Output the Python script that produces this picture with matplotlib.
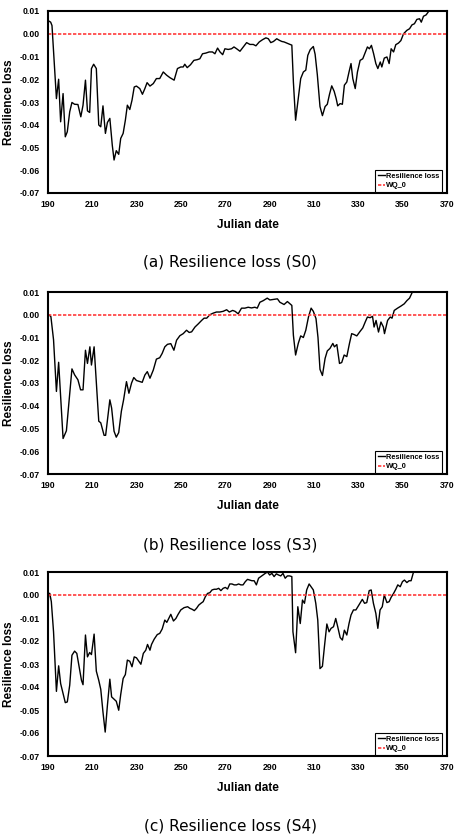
import matplotlib
matplotlib.use("Agg")
import matplotlib.pyplot as plt

# ── Data (Julian date, resilience loss) ──────────────────────────────────────
day_s0 = [190, 191.2, 191.8, 193.8, 194.8, 195.7, 196.8, 197.8, 198.7, 199.8,
          200.8, 202, 203.5, 204.8, 205.8, 206.9, 207.8, 208.8, 209.6, 210.6,
          211.8, 212.9, 213.8, 214.8, 215.9, 216.8, 217.9, 219, 219.8, 220.8,
          221.9, 222.8, 223.9, 224.9, 225.8, 226.9, 227.9, 228.9, 229.9, 231.4,
          232.6, 233.7, 234.7, 236, 237.5, 238.9, 240.4, 242, 243.5, 245,
          246.9, 248.4, 249.9, 251, 251.7, 252.8, 254.3, 255.8, 257.3, 258.5,
          259.7, 261.2, 262.7, 264.2, 265.3, 266.5, 267.6, 268.8, 269.8, 271.3,
          272.8, 273.9, 275.1, 276.6, 278.1, 279.6, 281.1, 282.6, 283.8, 285.3,
          286.8, 288.3, 289.4, 290.5, 291.7, 293.2, 294.4, 295.5, 296.5, 297.7,
          299.2, 300, 300.7, 301.7, 302.9, 304, 305.2, 306.3, 307.2, 308.3,
          309.7, 310.5, 311.5, 312.7, 313.8, 315, 316, 317, 318, 319.1,
          320, 320.7, 321.8, 322.8, 323.7, 324.8, 325.8, 326.7, 327.5, 328.6,
          329.6, 330.8, 332, 333.1, 334.1, 335, 335.9, 336.9, 337.9, 338.8,
          339.9, 340.6, 341.7, 342.9, 343.9, 344.8, 345.9, 346.9, 348.1, 349.2,
          350.4, 351.9, 353.1, 354.2, 355.3, 356.4, 357.6, 358.4, 359.4, 360.6,
          361.7, 362.5]
loss_s0 = [0.0058, 0.0051, 0.0036, -0.0285, -0.0200, -0.0387, -0.0263, -0.0453, -0.0431, -0.0343,
           -0.0302, -0.0310, -0.0311, -0.0365, -0.0314, -0.0204, -0.0339, -0.0346, -0.0153, -0.0134,
           -0.0153, -0.0401, -0.0409, -0.0317, -0.0438, -0.0390, -0.0372, -0.0490, -0.0555, -0.0514,
           -0.0530, -0.0460, -0.0438, -0.0380, -0.0314, -0.0333, -0.0292, -0.0234, -0.0230, -0.0241,
           -0.0266, -0.0241, -0.0215, -0.0230, -0.0219, -0.0197, -0.0197, -0.0168, -0.0182, -0.0193,
           -0.0204, -0.0153, -0.0146, -0.0146, -0.0134, -0.0149, -0.0136, -0.0117, -0.0114, -0.0110,
           -0.0088, -0.0085, -0.0080, -0.0080, -0.0088, -0.0063, -0.0080, -0.0092, -0.0066, -0.0069,
           -0.0066, -0.0058, -0.0066, -0.0077, -0.0058, -0.0039, -0.0047, -0.0047, -0.0053, -0.0036,
           -0.0026, -0.0018, -0.0022, -0.0039, -0.0034, -0.0022, -0.0029, -0.0034, -0.0036, -0.0041,
           -0.0047, -0.0050, -0.0212, -0.0380, -0.0285, -0.0197, -0.0168, -0.0160, -0.0095, -0.0070,
           -0.0056, -0.0090, -0.0180, -0.0320, -0.0360, -0.0320, -0.0310, -0.0266, -0.0229, -0.0253,
           -0.0285, -0.0317, -0.0307, -0.0310, -0.0226, -0.0212, -0.0168, -0.0131, -0.0197, -0.0241,
           -0.0168, -0.0117, -0.0110, -0.0083, -0.0058, -0.0066, -0.0051, -0.0088, -0.0131, -0.0153,
           -0.0124, -0.0146, -0.0107, -0.0102, -0.0131, -0.0066, -0.0080, -0.0048, -0.0041, -0.0030,
           0.0000, 0.0015, 0.0022, 0.0039, 0.0044, 0.0063, 0.0066, 0.0051, 0.0077, 0.0083,
           0.0098, 0.0110]

day_s3 = [190, 191.3, 192.5, 193.8, 194.8, 196.8, 198.3, 200.8, 202, 203.5,
          204.7, 205.8, 206.9, 207.8, 208.9, 209.6, 210.8, 212.9, 213.8, 215.3,
          216, 217.9, 218.7, 219.8, 220.8, 221.9, 223.1, 224.1, 225.4, 226.5,
          227.7, 228.7, 229.9, 232.5, 233.7, 234.8, 236, 237.5, 238.9, 240.4,
          241.5, 242.7, 243.9, 245.4, 246.8, 248, 249.5, 251, 252.5, 253.7,
          254.8, 256.3, 257.8, 259.3, 260.4, 261.6, 263, 264.5, 266, 267.5,
          269, 270.6, 271.8, 273.3, 274.4, 275.8, 277.3, 278.8, 280.3, 281.8,
          283.3, 284.4, 285.6, 287.1, 288.9, 290.1, 291.6, 293.5, 294.6, 296.5,
          298, 299.2, 300, 300.7, 301.7, 302.9, 304, 305.2, 306.3, 307.5,
          308.7, 309.7, 310.9, 311.8, 312.7, 313.8, 315, 316, 317.2, 318.5,
          319.2, 320.3, 321.5, 322.5, 323.6, 324.8, 326, 327, 328.1, 329.3,
          330.8, 332, 333.1, 334.1, 335.3, 336.4, 337.1, 338, 339.1, 340.2,
          341.3, 341.8, 343.2, 344.4, 345.2, 346.2, 347.7, 349.2, 350.7, 351.9,
          353.1, 354.2, 354.8]
loss_s3 = [0.0003, -0.0008, -0.0110, -0.0337, -0.0209, -0.0544, -0.0510, -0.0238, -0.0264, -0.0286,
           -0.0330, -0.0330, -0.0156, -0.0214, -0.0141, -0.0221, -0.0141, -0.0468, -0.0475, -0.0530,
           -0.0530, -0.0374, -0.0410, -0.0512, -0.0538, -0.0518, -0.0424, -0.0374, -0.0294, -0.0345,
           -0.0300, -0.0276, -0.0289, -0.0297, -0.0265, -0.0250, -0.0279, -0.0243, -0.0195, -0.0189,
           -0.0170, -0.0141, -0.0130, -0.0127, -0.0156, -0.0112, -0.0092, -0.0083, -0.0068, -0.0078,
           -0.0075, -0.0054, -0.0040, -0.0025, -0.0015, -0.0015, 0.0000, 0.0007, 0.0012, 0.0012,
           0.0015, 0.0022, 0.0012, 0.0019, 0.0015, 0.0004, 0.0029, 0.0029, 0.0033, 0.0030,
           0.0033, 0.0029, 0.0055, 0.0062, 0.0073, 0.0065, 0.0067, 0.0070, 0.0055, 0.0045,
           0.0058, 0.0048, 0.0041, -0.0090, -0.0177, -0.0126, -0.0093, -0.0100, -0.0068, -0.0010,
           0.0029, 0.0015, -0.0017, -0.0100, -0.0240, -0.0267, -0.0192, -0.0159, -0.0148, -0.0126,
           -0.0141, -0.0131, -0.0214, -0.0210, -0.0177, -0.0184, -0.0126, -0.0083, -0.0087, -0.0093,
           -0.0073, -0.0058, -0.0032, -0.0010, -0.0013, -0.0007, -0.0054, -0.0025, -0.0076, -0.0032,
           -0.0054, -0.0083, -0.0025, -0.0010, -0.0015, 0.0019, 0.0029, 0.0038, 0.0048, 0.0062,
           0.0073, 0.0096, 0.0110]

day_s4 = [190, 190.3, 190.8, 191.5, 192.5, 193.8, 194.8, 195.7, 196.8, 197.8,
          198.7, 199.8, 200.8, 202, 203, 203.9, 205.1, 205.8, 206.9, 207.8,
          208.8, 209.6, 210.8, 211.8, 212.9, 213.8, 214.8, 215.8, 216.8, 217.9,
          218.7, 219.8, 220.8, 221.9, 222.8, 223.9, 224.9, 225.8, 226.9, 227.9,
          228.9, 229.9, 231, 231.9, 233, 234.1, 234.9, 236, 236.7, 237.9,
          239.3, 240.4, 241.5, 242.7, 243.6, 244.5, 245.4, 246.6, 247.7, 248.7,
          249.9, 251.4, 253, 254, 255, 256, 257, 258, 259, 260,
          261, 262, 263, 264, 265, 266, 267, 268, 269, 270,
          271, 272, 273, 274, 275, 276, 277, 278, 279, 280,
          281, 282, 283, 284, 285, 286, 287, 288, 289, 290,
          291, 292, 293, 294, 295, 296, 297, 298, 299, 300,
          300.5, 301.7, 302.7, 303.8, 304.8, 305.7, 306.7, 307.8, 308.7, 309.7,
          310.8, 311.7, 312.7, 313.8, 314.7, 315.8, 316.8, 317.7, 318.8, 319.8,
          320.7, 321.8, 322.8, 323.7, 324.8, 325.8, 326.7, 327.8, 328.9, 329.8,
          330.8, 331.8, 332.8, 333.8, 334.9, 335.8, 336.8, 337.9, 338.8, 339.8,
          340.8, 341.7, 342.9, 343.9, 344.8, 345.9, 346.9, 347.8, 348.9, 349.9,
          350.8, 351.9, 352.9, 353.8, 354.9, 355.3]
loss_s4 = [-0.0051, 0.0007, 0.0007, -0.0029, -0.0160, -0.0419, -0.0308, -0.0385, -0.0429, -0.0468,
           -0.0465, -0.0392, -0.0262, -0.0244, -0.0254, -0.0305, -0.0371, -0.0390, -0.0174, -0.0269,
           -0.0250, -0.0259, -0.0170, -0.0331, -0.0371, -0.0410, -0.0509, -0.0596, -0.0480, -0.0366,
           -0.0443, -0.0453, -0.0462, -0.0501, -0.0433, -0.0363, -0.0346, -0.0283, -0.0288, -0.0312,
           -0.0269, -0.0273, -0.0288, -0.0301, -0.0254, -0.0240, -0.0215, -0.0240, -0.0215, -0.0192,
           -0.0172, -0.0167, -0.0148, -0.0109, -0.0119, -0.0102, -0.0084, -0.0113, -0.0102, -0.0084,
           -0.0065, -0.0055, -0.0051, -0.0058, -0.0062, -0.0068, -0.0058, -0.0044, -0.0036, -0.0029,
           -0.0007, 0.0007, 0.0010, 0.0022, 0.0025, 0.0025, 0.0029, 0.0019, 0.0029, 0.0033,
           0.0026, 0.0048, 0.0048, 0.0044, 0.0044, 0.0048, 0.0044, 0.0044, 0.0058, 0.0068,
           0.0065, 0.0062, 0.0062, 0.0044, 0.0073, 0.0080, 0.0087, 0.0094, 0.0100, 0.0087,
           0.0094, 0.0080, 0.0092, 0.0087, 0.0083, 0.0094, 0.0073, 0.0083, 0.0083, 0.0080,
           -0.0160, -0.0251, -0.0051, -0.0124, -0.0022, -0.0036, 0.0022, 0.0048, 0.0036, 0.0022,
           -0.0036, -0.0109, -0.0320, -0.0310, -0.0225, -0.0126, -0.0160, -0.0145, -0.0138, -0.0102,
           -0.0138, -0.0185, -0.0196, -0.0153, -0.0174, -0.0124, -0.0087, -0.0065, -0.0065, -0.0051,
           -0.0036, -0.0019, -0.0036, -0.0033, 0.0019, 0.0022, -0.0036, -0.0080, -0.0145, -0.0065,
           -0.0051, 0.0000, -0.0033, -0.0029, -0.0010, 0.0007, 0.0025, 0.0044, 0.0036, 0.0058,
           0.0065, 0.0054, 0.0062, 0.0062, 0.0100, 0.0110]

wq_threshold = 0.0
x_ticks = [190, 210, 230, 250, 270, 290, 310, 330, 350, 370]
y_ticks = [0.01, 0.00, -0.01, -0.02, -0.03, -0.04, -0.05, -0.06, -0.07]
captions = ["(a) Resilience loss (S0)", "(b) Resilience loss (S3)", "(c) Resilience loss (S4)"]

panels = [(day_s0, loss_s0), (day_s3, loss_s3), (day_s4, loss_s4)]

W, H = 465, 840
ax_boxes = [(48, 11, 193), (48, 292, 474), (48, 572, 756)]   # left, top, bottom
caption_y = [262, 545, 826]

BOLD = dict(family="Liberation Sans", fontweight="bold")

fig = plt.figure(figsize=(W / 100, H / 100), dpi=100)

for (days, loss), (lx, top, bot), cap, cy in zip(panels, ax_boxes, captions, caption_y):
    ax = fig.add_axes([lx / W, 1 - bot / H, (447 - lx) / W, (bot - top) / H])
    ax.plot(days, loss, color="black", lw=1.0, label="Resilience loss")
    ax.axhline(wq_threshold, color="#ff3b3b", lw=1.2, ls=(0, (2, 1)), label="WQ_0")

    ax.set_xlim(190, 370)
    ax.set_ylim(-0.07, 0.01)
    ax.set_xticks(x_ticks)
    ax.set_yticks(y_ticks)
    ax.set_xticklabels([str(t) for t in x_ticks], fontsize=6.3, **BOLD)
    ax.set_yticklabels([f"{t:.2f}" for t in y_ticks], fontsize=6.3, **BOLD)
    ax.tick_params(length=0, pad=6)
    ax.tick_params(axis="x", pad=5)
    for sp in ax.spines.values():
        sp.set_linewidth(1.5)

    ax.set_xlabel("Julian date", fontsize=8.5, labelpad=7, **BOLD)
    ax.set_ylabel("Resilience loss", fontsize=8.5, labelpad=3, **BOLD)

    leg = ax.legend(loc="lower right", bbox_to_anchor=(0.99, 0.0),
                    prop=dict(family="Liberation Sans", weight="bold", size=5.3),
                    frameon=True, fancybox=False, edgecolor="black", framealpha=1,
                    handlelength=0.9, handletextpad=0.2, borderpad=0.35,
                    labelspacing=0.35, borderaxespad=0.15)
    leg.get_frame().set_linewidth(0.8)

    fig.text(0.495, 1 - cy / H, cap, ha="center", va="center", fontsize=11,
             family="DejaVu Sans")

fig.savefig("out.png", dpi=100)
